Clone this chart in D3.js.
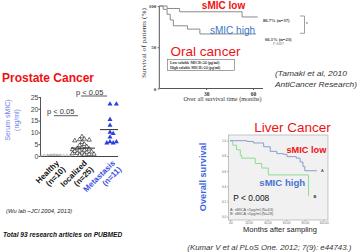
<!DOCTYPE html>
<html>
<head>
<meta charset="utf-8">
<script src="https://cdn.jsdelivr.net/npm/d3@7"></script>
<style>
html, body { margin: 0; padding: 0; background: #fff; }
svg { display: block; font-family: "Liberation Sans", Arial, sans-serif; }
.serif { font-family: "Liberation Serif", "Times New Roman", serif; }
.axis path, .axis line { stroke: #555; }
</style>
</head>
<body>
<svg id="chart" width="358" height="252"></svg>
<script>
// --- Prostate cancer (dot plot) ---
const prostateGroups = ["Healthy", "localized", "Metastasis"];
const prostateCounts = ["(n=10)", "(n=25)", "(n=11)"];
const healthyValues = [0.2, 0.3, 0.5, 0.4, 0.6, 0.3, 0.2, 0.5, 0.4, 0.3];
const localizedValues = [8.2, 7.2, 6.8, 7.0, 6.5, 5.8, 5.0, 4.5, 4.0, 3.5, 3.2, 3.0, 2.8,
                         2.5, 2.2, 2.0, 1.8, 1.5, 1.3, 1.2, 1.0, 0.8, 0.7, 0.5, 0.4];
const metastasisValues = [22, 22, 15.5, 13, 10, 9.5, 8, 6, 6, 5.5, 5.5];
const prostateTicks = [0, 5, 10, 15, 20, 25];

// --- Oral cancer (survival) ---
const oralXTicks = [30, 60];
const oralYTicks = [0, 50, 100];
const oralLow = [[0, 100], [5, 97], [13, 93], [53, 86.7], [63, 86.7]];
const oralHigh = [[0, 100], [2.5, 96], [5, 90], [7, 83], [9, 76], [18, 72], [26, 66.1], [62, 66.1]];

// --- Liver cancer (survival) ---
const liverXTicks = [0, 20, 40, 60, 80, 100];
const liverXLabels = [".00", "20.00", "40.00", "60.00", "80.00", "100.00"];
const liverYTicks = [0, 0.2, 0.4, 0.6, 0.8, 1.0];
const liverLow = [[0, 1.0], [18, 0.99], [25, 0.97], [36, 0.92], [43, 0.86], [50, 0.83],
                  [57, 0.82], [61, 0.79], [71, 0.77], [75, 0.72], [78, 0.66], [80, 0.605], [93, 0.605]];
const liverHigh = [[0, 1.0], [3, 0.94], [7, 0.88], [11, 0.81], [12.5, 0.77], [27, 0.70],
                   [34, 0.64], [41, 0.55], [84, 0.27], [84, 0.27]];

const svg = d3.select("#chart");

// Place les points sans chevauchement autour du centre de la categorie.
function dodge(values, y, cx, r, step) {
    const placed = [];
    values.slice().sort(function(a, b) { return b - a; }).forEach(function(v) {
        const py = y(v);
        for (let k = 0; k < 60; k++) {
            const off = k === 0 ? 0 : (k % 2 ? 1 : -1) * Math.ceil(k / 2) * step;
            const px = cx + off;
            const free = placed.every(function(p) {
                return (p.x - px) * (p.x - px) + (p.y - py) * (p.y - py) >= 4 * r * r;
            });
            if (free) { placed.push({ x: px, y: py, v: v }); break; }
        }
    });
    return placed;
}

// ================= Prostate =================
const px = d3.scalePoint().domain(prostateGroups).range([40, 124]).padding(0.5);
const py = d3.scaleLinear().domain([0, 25]).range([156, 97]);

svg.append("text").attr("x", 2).attr("y", 82)
    .attr("font-size", 12).attr("font-weight", "bold").attr("fill", "#ee1111")
    .text("Prostate Cancer");

const pAxis = svg.append("g").attr("class", "axis")
    .attr("transform", "translate(40.5,0)")
    .call(d3.axisLeft(py).tickValues(prostateTicks).tickSize(2).tickPadding(0));
pAxis.select(".domain").attr("d", "M0," + py(25) + "V" + py(0));
pAxis.selectAll("text").attr("font-size", 7).attr("fill", "#444").attr("font-family", "Liberation Sans, Arial");

svg.append("line").attr("x1", 40.5).attr("x2", 118).attr("y1", 156.5).attr("y2", 156.5)
    .attr("stroke", "#444").attr("stroke-width", 1);

const pLabel = svg.append("g").attr("transform", "translate(10,120) rotate(-90)")
    .attr("fill", "#6d7fe8").attr("font-size", 7).attr("text-anchor", "middle");
pLabel.append("text").attr("x", 0).attr("y", 0).text("Serum sMIC)");
pLabel.append("text").attr("x", 0).attr("y", 9).text("(ng/ml)");

const groupData = [healthyValues, localizedValues, metastasisValues];
const groupStyle = [
    { r: 0.9, step: 1.6, mean: [-7, 7], color: "#999" },
    { r: 1.5, step: 2.4, mean: [-11, 13], color: "#111" },
    { r: 1.7, step: 3.2, mean: [-10, 8], color: "#111" }
];

groupData.forEach(function(vals, i) {
    const st = groupStyle[i];
    const cx = px(prostateGroups[i]);
    const pts = dodge(vals, py, cx, st.r, st.step);
    const g = svg.append("g");
    if (i === 0) {
        g.selectAll("circle").data(pts).enter().append("circle")
            .attr("cx", function(d) { return d.x; }).attr("cy", function(d) { return d.y; })
            .attr("r", st.r).attr("fill", "none").attr("stroke", "#999").attr("stroke-width", 0.6);
    } else {
        g.selectAll("path").data(pts).enter().append("path")
            .attr("transform", function(d) { return "translate(" + d.x + "," + d.y + ")"; })
            .attr("d", d3.symbol(d3.symbolTriangle).size(i === 1 ? 8 : 11))
            .attr("fill", i === 1 ? "#fff" : "#2a3ee0")
            .attr("stroke", i === 1 ? "#111" : "none")
            .attr("stroke-width", 0.6);
    }
    const m = d3.mean(vals);
    svg.append("line").attr("x1", cx + st.mean[0]).attr("x2", cx + st.mean[1])
        .attr("y1", py(m)).attr("y2", py(m)).attr("stroke", st.color).attr("stroke-width", 0.9);
});

// etiquettes de categorie tournees
prostateGroups.forEach(function(name, i) {
    const g = svg.append("g")
        .attr("transform", "translate(" + (px(name) + 2) + ",160) rotate(-45)")
        .attr("text-anchor", "end").attr("font-size", 8).attr("font-weight", "bold")
        .attr("fill", i === 2 ? "#3a4fe0" : "#111");
    g.append("text").attr("x", 0).attr("y", 5).text(name);
    g.append("text").attr("x", 0).attr("y", 14).text(prostateCounts[i]);
});

// crochets de p-valeur
function pBracket(xText, xa, xb, yLine) {
    svg.append("text").attr("x", xText).attr("y", yLine - 1.5)
        .attr("font-size", 7.5).attr("fill", "#333").text("p < 0.05");
    svg.append("line").attr("x1", xa).attr("x2", xb).attr("y1", yLine).attr("y2", yLine)
        .attr("stroke", "#333").attr("stroke-width", 0.8);
}
pBracket(47, px("Healthy"), px("localized") - 4, 115.7);
pBracket(76, px("localized") - 1, px("Metastasis") - 3, 96);

svg.append("text").attr("x", 6).attr("y", 213)
    .attr("font-size", 5.8).attr("font-style", "italic").attr("fill", "#222")
    .text("(Wu lab \u2013JCI 2004, 2013)");
svg.append("text").attr("x", 3).attr("y", 236.5)
    .attr("font-size", 6.6).attr("font-style", "italic").attr("font-weight", "bold").attr("fill", "#111")
    .text("Total 93 research articles on PUBMED");

// ================= Oral =================
const ox = d3.scaleLinear().domain([0, 66.4]).range([159.3, 263]);
const oy = d3.scaleLinear().domain([0, 100]).range([88.5, 6]);

const oAxisY = svg.append("g").attr("class", "axis serif")
    .attr("transform", "translate(159.3,0)")
    .call(d3.axisLeft(oy).tickValues(oralYTicks).tickSize(1.5).tickPadding(1.5));
oAxisY.select(".domain").attr("d", "M0," + oy(100) + "V" + oy(0)).attr("stroke", "#777");
oAxisY.selectAll("text").attr("font-size", 5).attr("font-weight", "bold").attr("fill", "#333")
    .attr("font-family", "Liberation Serif, serif");

const oAxisX = svg.append("g").attr("class", "axis serif")
    .attr("transform", "translate(0," + oy(0) + ")")
    .call(d3.axisBottom(ox).tickValues(oralXTicks).tickSize(1.5).tickPadding(2));
oAxisX.select(".domain").attr("d", "M" + ox(0) + ",0H" + ox(66.4)).attr("stroke", "#777");
oAxisX.selectAll("text").attr("font-size", 5.5).attr("font-weight", "bold").attr("fill", "#333")
    .attr("font-family", "Liberation Serif, serif");

svg.append("text").attr("class", "serif").attr("x", 222.5).attr("y", 101)
    .attr("text-anchor", "middle").attr("font-size", 6).attr("fill", "#333")
    .attr("textLength", 78).attr("lengthAdjust", "spacingAndGlyphs")
    .text("Over all survival time (months)");
svg.append("text").attr("class", "serif")
    .attr("transform", "translate(146,43) rotate(-90)")
    .attr("text-anchor", "middle").attr("font-size", 5.6).attr("fill", "#333")
    .attr("textLength", 70).attr("lengthAdjust", "spacingAndGlyphs")
    .text("Survival of patients (%)");

const oLine = d3.line().curve(d3.curveStepAfter)
    .x(function(d) { return ox(d[0]); }).y(function(d) { return oy(d[1]); });
[oralLow, oralHigh].forEach(function(c) {
    svg.append("path").attr("d", oLine(c)).attr("fill", "none")
        .attr("stroke", "#8a8a8a").attr("stroke-width", 1);
});

svg.append("text").attr("x", 223.5).attr("y", 8.5).attr("text-anchor", "middle")
    .attr("font-size", 10).attr("font-weight", "bold").attr("fill", "#ee1111").text("sMIC low");
svg.append("text").attr("x", 232.5).attr("y", 33.5).attr("text-anchor", "middle")
    .attr("font-size", 10).attr("fill", "#3b78c4").text("sMIC high");
svg.append("text").attr("x", 205.5).attr("y", 56).attr("text-anchor", "middle")
    .attr("font-size", 13.5).attr("fill", "#ee1111").text("Oral cancer");

svg.append("rect").attr("x", 167.5).attr("y", 59.5).attr("width", 67).attr("height", 11)
    .attr("fill", "#fff").attr("stroke", "#666").attr("stroke-width", 0.6);
svg.append("text").attr("class", "serif").attr("x", 170).attr("y", 64)
    .attr("font-size", 3.8).attr("font-weight", "bold").attr("fill", "#333")
    .text("Low soluble  MICB<24  (pg/ml)");
svg.append("text").attr("class", "serif").attr("x", 170).attr("y", 68.8)
    .attr("font-size", 3.8).attr("font-weight", "bold").attr("fill", "#333")
    .text("High soluble  MICB>24  (pg/ml)");

svg.append("text").attr("class", "serif").attr("x", 263).attr("y", 22)
    .attr("font-size", 4.6).attr("font-weight", "bold").attr("fill", "#333").text("86.7%   (n=37)");
svg.append("text").attr("class", "serif").attr("x", 265).attr("y", 40.5)
    .attr("font-size", 4.6).attr("font-weight", "bold").attr("fill", "#333").text("66.1%   (n=23)");
svg.append("text").attr("class", "serif").attr("x", 273).attr("y", 44.5)
    .attr("font-size", 3).attr("font-style", "italic").attr("fill", "#555").text("P=0.037");
svg.append("path").attr("d", "M300,16H304.5V33.3H300").attr("fill", "none")
    .attr("stroke", "#777").attr("stroke-width", 0.7);
svg.append("text").attr("x", 306).attr("y", 26).attr("font-size", 4.5).attr("fill", "#333").text("*");

svg.append("text").attr("x", 275).attr("y", 76).attr("font-size", 8)
    .attr("font-style", "italic").attr("fill", "#333")
    .attr("textLength", 72).attr("lengthAdjust", "spacingAndGlyphs")
    .text("(Tamaki et al, 2010");
svg.append("text").attr("x", 275).attr("y", 86.5).attr("font-size", 8)
    .attr("font-style", "italic").attr("fill", "#333")
    .attr("textLength", 82).attr("lengthAdjust", "spacingAndGlyphs")
    .text("AntiCancer Research)");

// ================= Liver =================
const lx = d3.scaleLinear().domain([0, 100]).range([230, 323.5]);
const ly = d3.scaleLinear().domain([0, 1]).range([216.7, 140.7]);

svg.append("text").attr("x", 292.5).attr("y", 131.5).attr("text-anchor", "middle")
    .attr("font-size", 13.5).attr("fill", "#ee1111").text("Liver Cancer");

svg.append("rect").attr("x", 228.3).attr("y", 135).attr("width", 99.7).attr("height", 85)
    .attr("fill", "#f1f1f1").attr("stroke", "#a0a0a0").attr("stroke-width", 0.6);

const lAxisY = svg.append("g").attr("class", "axis")
    .attr("transform", "translate(228.3,0)")
    .call(d3.axisLeft(ly).tickValues(liverYTicks).tickFormat(d3.format(".1f")).tickSize(1.2).tickPadding(1));
lAxisY.select(".domain").remove();
lAxisY.selectAll("line").attr("stroke", "#999").attr("stroke-width", 0.5);
lAxisY.selectAll("text").attr("font-size", 3).attr("fill", "#666");

const lAxisX = svg.append("g").attr("class", "axis")
    .attr("transform", "translate(0,220)")
    .call(d3.axisBottom(lx).tickValues(liverXTicks)
        .tickFormat(function(d, i) { return liverXLabels[i]; }).tickSize(1.2).tickPadding(1));
lAxisX.select(".domain").remove();
lAxisX.selectAll("line").attr("stroke", "#999").attr("stroke-width", 0.5);
lAxisX.selectAll("text").attr("font-size", 3).attr("fill", "#666");

const lLine = d3.line().curve(d3.curveStepAfter)
    .x(function(d) { return lx(d[0]); }).y(function(d) { return ly(d[1]); });
svg.append("path").attr("d", lLine(liverHigh)).attr("fill", "none")
    .attr("stroke", "#8ddc8d").attr("stroke-width", 1);
svg.append("path").attr("d", lLine(liverLow)).attr("fill", "none")
    .attr("stroke", "#8b9bd2").attr("stroke-width", 1);

svg.append("text").attr("x", lx(93) + 4).attr("y", ly(0.605) + 1.5)
    .attr("font-size", 4).attr("fill", "#333").text("A");
svg.append("text").attr("x", lx(84) + 5).attr("y", ly(0.27) + 1.5)
    .attr("font-size", 4).attr("font-weight", "bold").attr("fill", "#333").text("B");

svg.append("text").attr("x", 286.5).attr("y", 152.5)
    .attr("font-size", 9.2).attr("font-weight", "bold").attr("fill", "#ee1111").text("sMIC low");
svg.append("text").attr("x", 259.3).attr("y", 185.7)
    .attr("font-size", 9.6).attr("font-weight", "bold").attr("fill", "#4a74d4").text("sMIC high");
svg.append("text").attr("x", 233.3).attr("y", 200.7)
    .attr("font-size", 8.4).attr("fill", "#111").text("P < 0.008");
svg.append("text").attr("x", 230).attr("y", 210.5)
    .attr("font-size", 3.8).attr("fill", "#555").text("A: sMICA <5pg/ml (N=63)");
svg.append("text").attr("x", 230).attr("y", 214.8)
    .attr("font-size", 3.8).attr("fill", "#555").text("B: sMICA >5pg/ml (N=28)");

svg.append("text").attr("transform", "translate(206,177) rotate(-90)")
    .attr("text-anchor", "middle").attr("font-size", 9.2).attr("font-weight", "bold")
    .attr("fill", "#4466dd").text("Overall survival");
svg.append("text").attr("x", 280).attr("y", 231.7).attr("text-anchor", "middle")
    .attr("font-size", 7.5).attr("fill", "#222").text("Months after sampling");

svg.append("text").attr("x", 187.3).attr("y", 249.5).attr("font-size", 7)
    .attr("font-style", "italic").attr("fill", "#333")
    .attr("textLength", 164).attr("lengthAdjust", "spacingAndGlyphs")
    .text("(Kumar V et al PLoS One. 2012; 7(9): e44743.)");
</script>
</body>
</html>
